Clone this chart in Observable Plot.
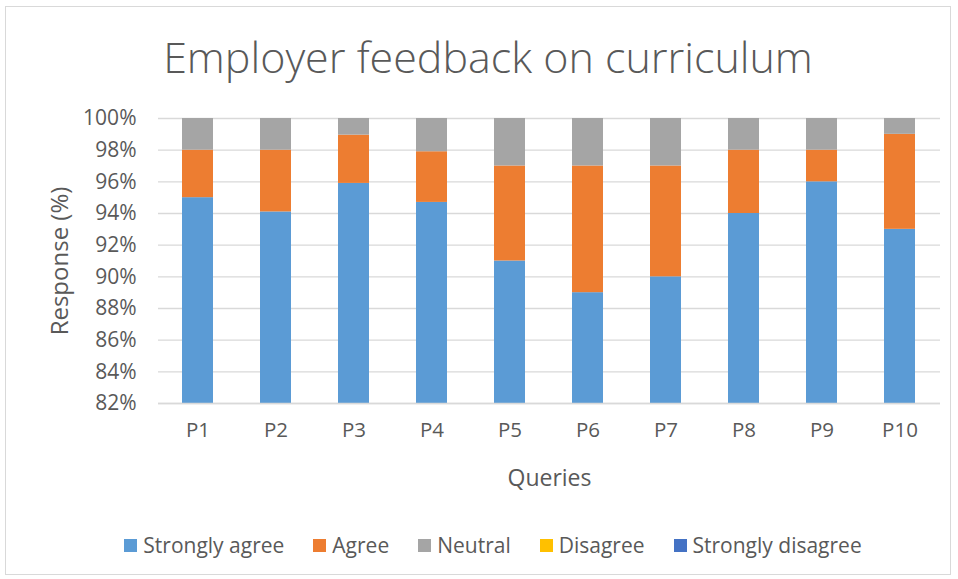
<!DOCTYPE html>
<html>
<head>
<meta charset="utf-8">
<script src="https://cdn.jsdelivr.net/npm/d3@7"></script>
<script src="https://cdn.jsdelivr.net/npm/@observablehq/plot@0.6"></script>
<style>
  html, body { margin: 0; padding: 0; background: #fff; }
  body { width: 958px; height: 579px; position: relative; overflow: hidden; font-family: "Open Sans", sans-serif; color: #595959; }
  #frame { position: absolute; left: 5px; top: 6px; width: 946px; height: 569px; border: 1px solid #d9d9d9; box-sizing: border-box; }
  #title { position: absolute; left: 9px; width: 958px; top: 28px; text-align: center; font-size: 43px; font-weight: 300; line-height: 58px; color: #595959; }
  #chart { position: absolute; left: 0; top: 100px; }
  #legend { position: absolute; left: 14px; width: 958px; top: 530px; display: flex; justify-content: center; gap: 29px; font-size: 21px; line-height: 30px; color: #595959; }
  #legend .item { display: flex; align-items: center; }
  #legend .sw { width: 13px; height: 13px; margin-right: 6px; display: inline-block; }
</style>
</head>
<body>
<div id="frame"></div>
<div id="title">Employer feedback on curriculum</div>
<div id="chart"></div>
<div id="legend"></div>
<script>
const queries = ["P1","P2","P3","P4","P5","P6","P7","P8","P9","P10"];
const responses = ["Strongly agree","Agree","Neutral","Disagree","Strongly disagree"];
const colors = ["#5b9bd5","#ed7d31","#a5a5a5","#ffc000","#4472c4"];
const stronglyAgree = [95, 94.1, 95.9, 94.7, 91, 89, 90, 94, 96, 93];
const agree         = [3, 3.9, 3.05, 3.2, 6, 8, 7, 4, 2, 6];
const neutral       = [2, 2, 1.05, 2.1, 3, 3, 3, 2, 2, 1];
const disagree      = [0, 0, 0, 0, 0, 0, 0, 0, 0, 0];
const stronglyDisagree = [0, 0, 0, 0, 0, 0, 0, 0, 0, 0];
const yTicks = [82, 84, 86, 88, 90, 92, 94, 96, 98, 100];

const series = [stronglyAgree, agree, neutral, disagree, stronglyDisagree];
const data = [];
queries.forEach((q, i) => {
  responses.forEach((r, j) => data.push({query: q, response: r, value: series[j][i]}));
});

const chart = Plot.plot({
  width: 958,
  height: 400,
  marginLeft: 158,
  marginRight: 18,
  marginTop: 18,
  marginBottom: 97,
  style: {fontFamily: "'Open Sans', sans-serif", fontSize: "19px", color: "#595959", background: "transparent"},
  x: {domain: queries, paddingInner: 0.6, paddingOuter: 0.3},
  y: {domain: [82, 100]},
  color: {domain: responses, range: colors},
  marks: [
    Plot.gridY(yTicks, {stroke: "#d9d9d9", strokeOpacity: 1, strokeWidth: 1.3}),
    Plot.barY(data, Plot.stackY({x: "query", y: "value", fill: "response", clip: true})),
    Plot.ruleY([82], {stroke: "#d9d9d9", strokeWidth: 1.3}),
    Plot.axisY({ticks: yTicks, tickFormat: d => d + "%", tickSize: 0, tickPadding: 22,
      label: null, fontSize: 21, fill: "#595959"}),
    Plot.axisY({ticks: [], tickSize: 0, label: "Response (%)", labelAnchor: "center",
      labelArrow: "none", labelOffset: 108, fontSize: 24, fill: "#595959"}),
    Plot.axisX({tickSize: 0, tickPadding: 19, label: null, fontSize: 20.5, fill: "#595959"}),
    Plot.axisX({ticks: [], tickSize: 0, label: "Queries", labelAnchor: "center",
      labelArrow: "none", labelOffset: 82, fontSize: 23, fill: "#595959"})
  ]
});
document.getElementById("chart").appendChild(chart);

const legend = document.getElementById("legend");
responses.forEach((r, i) => {
  const item = document.createElement("div");
  item.className = "item";
  const sw = document.createElement("span");
  sw.className = "sw";
  sw.style.background = colors[i];
  item.appendChild(sw);
  item.appendChild(document.createTextNode(r));
  legend.appendChild(item);
});
</script>
</body>
</html>
